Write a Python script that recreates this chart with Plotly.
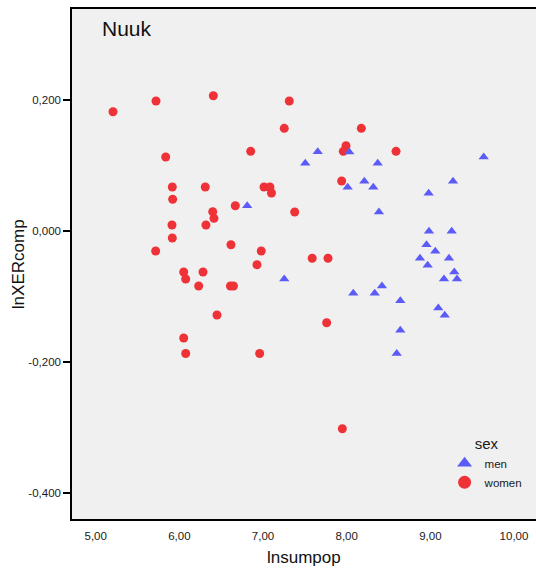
import plotly.graph_objects as go

# Women (red circles)
women_x = [5.207, 5.721, 6.406, 5.837, 6.853, 5.916, 6.310, 5.920, 6.669, 6.399,
           6.414, 5.912, 6.318, 5.916, 5.717, 6.617, 6.979, 6.928, 6.052, 6.076,
           6.283, 6.231, 6.611, 6.647, 7.012, 7.083, 7.101, 6.450, 6.052, 6.076,
           6.960, 7.761, 7.948, 7.314, 7.254, 8.175, 7.992, 7.960, 8.590, 7.940,
           7.379, 7.588, 7.777]
women_y = [0.1823, 0.1986, 0.2067, 0.1132, 0.1219, 0.0674, 0.0674, 0.0487, 0.0389, 0.0297,
           0.0197, 0.0095, 0.0095, -0.0104, -0.0302, -0.0206, -0.0302, -0.0511, -0.0622, -0.0729,
           -0.0622, -0.0836, -0.0836, -0.0836, 0.0674, 0.0674, 0.0583, -0.1278, -0.1629, -0.1866,
           -0.1866, -0.1396, -0.3013, 0.1986, 0.1570, 0.1570, 0.1304, 0.1219, 0.1219, 0.0766,
           0.0293, -0.0413, -0.0413]

# Men (blue triangles)
men_x = [7.654, 7.505, 8.031, 8.371, 9.638, 8.211, 8.012, 8.318, 9.271, 8.980,
         8.386, 8.984, 9.255, 8.954, 9.059, 8.876, 9.223, 8.968, 9.286, 9.163,
         9.319, 7.254, 8.422, 8.079, 8.335, 8.641, 9.095, 9.172, 8.641, 8.598,
         6.811]
men_y = [0.1213, 0.1036, 0.1208, 0.1036, 0.1132, 0.0761, 0.0670, 0.0670, 0.0761, 0.0578,
         0.0293, 0.0000, 0.0000, -0.0206, -0.0307, -0.0413, -0.0413, -0.0520, -0.0622, -0.0729,
         -0.0729, -0.0729, -0.0836, -0.0947, -0.0947, -0.1060, -0.1172, -0.1283, -0.1512, -0.1866,
         0.0389]

x_tickvals = [5, 6, 7, 8, 9, 10]
x_ticktext = ["5,00", "6,00", "7,00", "8,00", "9,00", "10,00"]
y_tickvals = [0.2, 0.0, -0.2, -0.4]
y_ticktext = ["0,200", "0,000", "-0,200", "-0,400"]

RED = "#EE3237"
BLUE = "#5B5BF7"
FONT = "Liberation Sans, Arial, sans-serif"

fig = go.Figure()
fig.add_trace(go.Scatter(x=women_x, y=women_y, mode="markers", name="women",
                         marker=dict(symbol="circle", size=9, color=RED, line=dict(width=0)),
                         showlegend=False))
fig.add_trace(go.Scatter(x=men_x, y=men_y, mode="markers", name="men",
                         marker=dict(symbol="triangle-up", size=9, color=BLUE, line=dict(width=0)),
                         showlegend=False))
# legend entries (larger symbols as in reference)
fig.add_trace(go.Scatter(x=[None], y=[None], mode="markers", name="men",
                         marker=dict(symbol="triangle-up", size=13, color=BLUE, line=dict(width=0))))
fig.add_trace(go.Scatter(x=[None], y=[None], mode="markers", name="women",
                         marker=dict(symbol="circle", size=13, color=RED, line=dict(width=0))))

fig.update_layout(
    width=536, height=572,
    margin=dict(l=72, r=0, t=9, b=53),
    paper_bgcolor="white",
    plot_bgcolor="#F0F0F0",
    font=dict(family=FONT, color="#1a1a1a", size=11),
    legend=dict(
        x=0.803, y=0.176, xanchor="left", yanchor="top",
        bgcolor="rgba(0,0,0,0)",
        title=dict(text="sex", side="top center", font=dict(size=15)),
        font=dict(size=11.5),
        itemsizing="trace",
        tracegroupgap=0,
    ),
    annotations=[
        dict(text="Nuuk", x=0.061, y=0.962, xref="paper", yref="paper",
             xanchor="left", yanchor="middle", showarrow=False,
             font=dict(size=21, family=FONT, color="#111")),
        dict(text="lnsumpop", x=0.5, y=-0.053, xref="paper", yref="paper",
             xanchor="center", yanchor="top", showarrow=False,
             font=dict(size=17, family=FONT, color="#111")),
        dict(text="lnXERcomp", x=-0.116, y=0.5, xref="paper", yref="paper",
             xanchor="center", yanchor="middle", showarrow=False, textangle=-90,
             font=dict(size=17, family=FONT, color="#111")),
    ],
)
fig.update_xaxes(
    range=[4.717, 10.263], tickvals=x_tickvals, ticktext=x_ticktext,
    showgrid=False, zeroline=False,
    showline=True, linecolor="black", linewidth=1.5, mirror=True,
    ticks="outside", ticklen=5, tickcolor="rgba(0,0,0,0)",
    tickfont=dict(size=11.5, family=FONT, color="#1a1a1a"),
)
fig.update_yaxes(
    range=[-0.439, 0.339], tickvals=y_tickvals, ticktext=y_ticktext,
    showgrid=False, zeroline=False,
    showline=True, linecolor="black", linewidth=1.5,
    ticks="outside", ticklen=7, tickwidth=1.5, tickcolor="black",
    tickfont=dict(size=11.5, family=FONT, color="#1a1a1a"),
)

fig.write_html("out.html")
